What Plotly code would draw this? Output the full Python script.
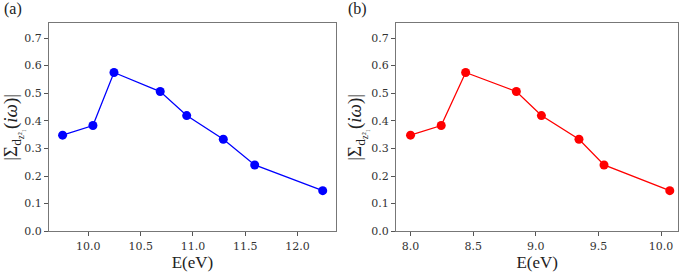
import plotly.graph_objects as go

# Data
energy_a = [9.754, 10.044, 10.245, 10.687, 10.94, 11.29, 11.59, 12.24]
energy_b = [8.0, 8.245, 8.44, 8.845, 9.045, 9.345, 9.545, 10.07]
sigma = [0.348, 0.383, 0.575, 0.506, 0.419, 0.333, 0.240, 0.147]
xticks_a = [10.0, 10.5, 11.0, 11.5, 12.0]
xticks_b = [8.0, 8.5, 9.0, 9.5, 10.0]
yticks = [0.0, 0.1, 0.2, 0.3, 0.4, 0.5, 0.6, 0.7]

W, H = 685, 273
fig = go.Figure()
fig.add_trace(go.Scatter(x=energy_a, y=sigma, mode="lines+markers",
                         line=dict(color="#0000ff", width=1.3),
                         marker=dict(color="#0000ff", size=9),
                         xaxis="x", yaxis="y", showlegend=False))
fig.add_trace(go.Scatter(x=energy_b, y=sigma, mode="lines+markers",
                         line=dict(color="#ff0000", width=1.3),
                         marker=dict(color="#ff0000", size=9),
                         xaxis="x2", yaxis="y2", showlegend=False))

tickfont = dict(family="DejaVu Serif", size=11, color="#333333")
titlefont = dict(family="Liberation Serif", size=17, color="#222222")
yfont = dict(family="Liberation Serif", size=19, color="#222222")
ylabel = "|Σ<sub>d<sub>z²₁</sub></sub>(<i>iω</i>)|"

def xax(dom, rng, ticks):
    return dict(domain=dom, range=rng, tickvals=ticks,
                ticktext=[f"{t:.1f}" for t in ticks],
                showgrid=False, zeroline=False, showline=True, mirror=True,
                linecolor="#777777", linewidth=1.2, ticks="outside", ticklen=4,
                tickcolor="#555555", tickfont=tickfont,
                title=dict(text="E(eV)", font=titlefont, standoff=2))

def yax(anchor):
    return dict(domain=[1 - 237.3 / H, 1 - 24 / H], range=[0, 0.753], tickvals=yticks,
                ticktext=[f"{t:.1f}" for t in yticks], anchor=anchor,
                showgrid=False, zeroline=False, showline=True, mirror=True,
                linecolor="#777777", linewidth=1.2, ticks="outside", ticklen=4,
                tickcolor="#555555", tickfont=tickfont,
                title=dict(text=ylabel, font=yfont, standoff=4))

xa = xax([49 / W, 336 / W], [9.624, 12.367], xticks_a)
xa["anchor"] = "y"
xb = xax([396 / W, 678.3 / W], [7.884, 10.138], xticks_b)
xb["anchor"] = "y2"

fig.update_layout(
    width=W, height=H, margin=dict(l=0, r=0, t=0, b=0),
    paper_bgcolor="white", plot_bgcolor="white",
    xaxis=xa, yaxis=yax("x"), xaxis2=xb, yaxis2=yax("x2"),
    annotations=[
        dict(text="(a)", x=2 / W, y=1 - 9 / H, xref="paper", yref="paper",
             xanchor="left", yanchor="middle", showarrow=False,
             font=dict(family="Liberation Serif", size=16, color="#222222")),
        dict(text="(b)", x=346 / W, y=1 - 9 / H, xref="paper", yref="paper",
             xanchor="left", yanchor="middle", showarrow=False,
             font=dict(family="Liberation Serif", size=16, color="#222222")),
    ],
)
fig.write_html("out.html", config={"displayModeBar": False},
               post_script="document.body.style.margin='0';document.body.style.overflow='hidden';")
